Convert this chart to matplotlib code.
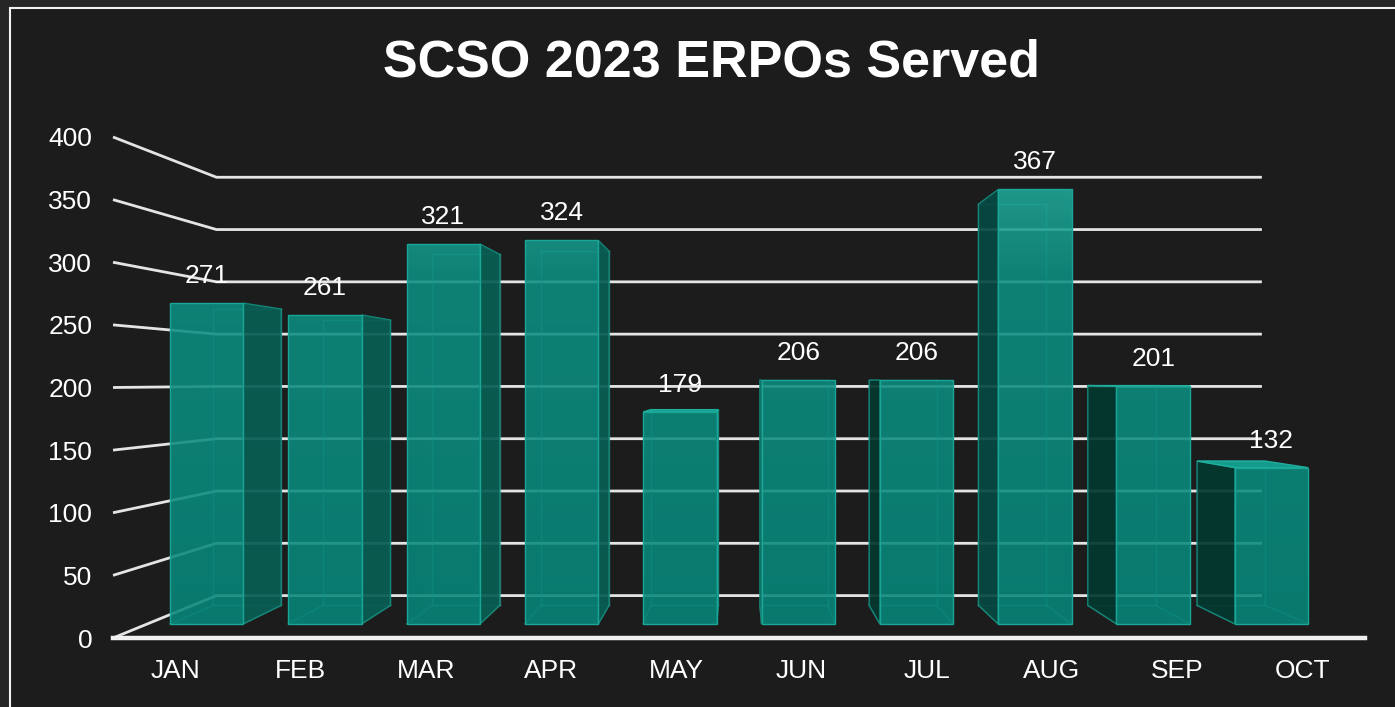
import numpy as np
import matplotlib.pyplot as plt
from matplotlib.patches import Polygon, Rectangle
from matplotlib.colors import LinearSegmentedColormap

# data
months = ["JAN", "FEB", "MAR", "APR", "MAY", "JUN", "JUL", "AUG", "SEP", "OCT"]
served = [271, 261, 321, 324, 179, 206, 206, 367, 201, 132]
y_ticks = [0, 50, 100, 150, 200, 250, 300, 350, 400]

plt.rcParams['font.family'] = ['Liberation Sans', 'DejaVu Sans']

W, H = 1395, 707
fig = plt.figure(figsize=(W / 100, H / 100), dpi=100, facecolor='#262626')
frame = Rectangle((10 / W, -0.1), 1.0, 1.1 - 8 / H, transform=fig.transFigure,
                  facecolor='#1c1c1c', edgecolor='#f2f2f2', lw=1.5, zorder=-5)
fig.add_artist(frame)

# front plane of the "3d" box is the axes itself
ax = fig.add_axes([113 / W, (H - 638) / H, (1365 - 113) / W, (638 - 137) / H])
ax.set_facecolor('none')
for sp in ax.spines.values():
    sp.set_visible(False)

# perspective: vanishing point in data coords, depth given as scale factor
XV, YV = 4.508, 205.2
S_WALL = 0.835   # back wall
S_FRONT = 0.945  # bar front face
S_BACK = 0.873   # bar back face
BW = 0.62        # bar width (category units)

def proj(x, y, s):
    return XV + (x - XV) * s, YV + (y - YV) * s

grid_col = '#e4e4e4'
x_left, x_right = -0.5, len(months) - 0.5
for t in y_ticks:
    bx0, by = proj(x_left, t, S_WALL)
    bx1, _ = proj(x_right, t, S_WALL)
    ax.plot([x_left, bx0, bx1], [t, by, by], color=grid_col, lw=2.0,
            clip_on=False, zorder=1, solid_capstyle='butt')
ax.plot([x_left, x_right], [0, 0], color='#f0f0f0', lw=3.2, clip_on=False, zorder=1)

# glass face colour depends on height (lighter near the top of the tall bars)
face_cmap = LinearSegmentedColormap.from_list(
    'glass', [(0.0, '#07877a'), (0.72, '#0d8f81'), (0.85, '#1aa292'), (1.0, '#2db7a7')])

for i, v in enumerate(served):
    xl, xr = i - BW / 2, i + BW / 2
    f = [proj(xl, 0, S_FRONT), proj(xr, 0, S_FRONT), proj(xr, v, S_FRONT), proj(xl, v, S_FRONT)]
    b = [proj(xl, 0, S_BACK), proj(xr, 0, S_BACK), proj(xr, v, S_BACK), proj(xl, v, S_BACK)]

    # inner edges seen through the glass
    inner = [(b[0], b[1]), (b[1], b[2]), (b[2], b[3]), (b[3], b[0]), (f[0], b[0]), (f[1], b[1])]
    for p, q in inner:
        ax.plot([p[0], q[0]], [p[1], q[1]], color='#45c9b8', lw=1.0, alpha=0.45,
                clip_on=False, zorder=2)

    if xr < XV:
        side = [f[1], b[1], b[2], f[2]]
        side_col = '#085e54'
    else:
        side = [f[0], b[0], b[3], f[3]]
        side_col = '#04392f' if v < 300 else '#064a42'
    ax.add_patch(Polygon(side, closed=True, facecolor=side_col, edgecolor='#13897b',
                         lw=1.0, alpha=0.93, clip_on=False, zorder=3))
    if v < YV:
        top = [f[3], f[2], b[2], b[3]]
        ax.add_patch(Polygon(top, closed=True, facecolor='#14a291', edgecolor='#1fb3a1',
                             lw=1.0, alpha=0.95, clip_on=False, zorder=3))

    y_bot, y_top = f[0][1], f[2][1]
    face = Polygon(f, closed=True, facecolor='none', edgecolor='#1aa696', lw=1.0,
                   clip_on=False, zorder=4.5)
    ax.add_patch(face)
    shade = np.linspace(y_bot, y_top, 128).reshape(-1, 1) / 400.0
    img = ax.imshow(shade, extent=[f[0][0], f[1][0], y_bot, y_top], origin='lower',
                    cmap=face_cmap, vmin=0, vmax=1, aspect='auto', alpha=0.88,
                    zorder=4, interpolation='bilinear')
    img.set_clip_path(face)

    cx, cy = proj(i, v, S_FRONT)
    ax.annotate(str(v), xy=(cx, cy), xytext=(0, 19.5), textcoords='offset points',
                ha='center', va='center', color='white', fontsize=19,
                annotation_clip=False, zorder=5)

ax.set_xlim(-0.5, len(months) - 0.5)
ax.set_ylim(0, 400)
ax.set_yticks(y_ticks)
ax.set_yticklabels([str(t) for t in y_ticks])
ax.set_xticks(range(len(months)))
ax.set_xticklabels(months)
ax.tick_params(axis='both', length=0, colors='white', labelsize=19)
ax.tick_params(axis='y', pad=15)
ax.tick_params(axis='x', pad=15)

fig.text(711 / W, 1 - 63 / H, "SCSO 2023 ERPOs Served", ha='center', va='center',
         color='white', fontsize=37.5, fontweight='bold')

fig.savefig("out.png", dpi=100, facecolor=fig.get_facecolor())
